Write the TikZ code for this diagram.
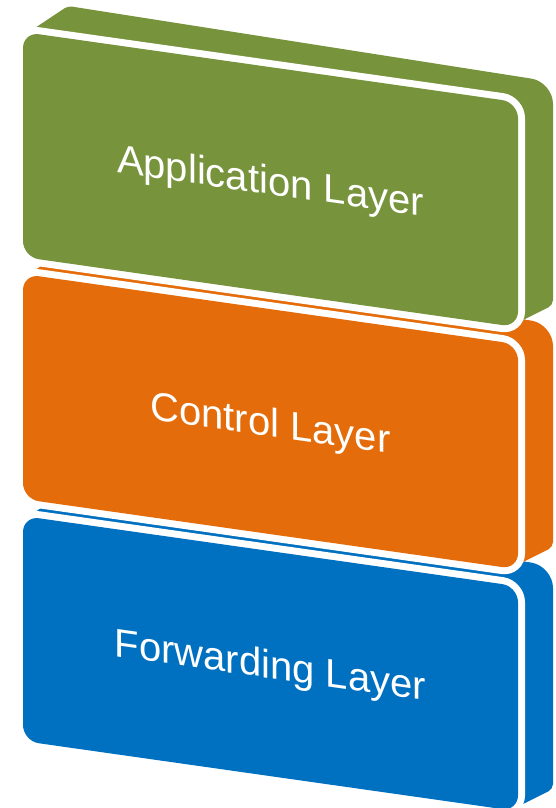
\documentclass[tikz,border=0pt]{standalone}
\usepackage{fontspec}
\setmainfont{Liberation Sans}
\definecolor{appgreen}{HTML}{77933C}
\definecolor{ctrlorange}{HTML}{E46C0A}
\definecolor{fwdblue}{HTML}{0070C0}
\tikzset{
  lbl/.style={text=white, font=\fontsize{40}{48}\selectfont, inner sep=0pt},
  gap/.style={draw=white, line width=14pt, rounded corners=16pt},
}
\newcommand\drawslab[4]{%
  \begin{scope}[shift={(0,#1)}]
    \fill[#2, rounded corners=4pt] (29,32) -- (68,6) [rounded corners=22pt] -- (553,82) [rounded corners=5pt] -- (553,305) -- (515,324) -- (23,250) -- cycle;
    \draw[gap] (23,32) -- (518,102.3) -- (518,327.3) -- (23,257) -- cycle;
    \fill[#2, rounded corners=16pt] (23,32) -- (518,102.3) -- (518,327.3) -- (23,257) -- cycle;
    \node[lbl, yslant=-0.142] (#3) at (270.5,184) {#4};
  \end{scope}}
\begin{document}
\begin{tikzpicture}[x=1pt, y=-1pt]
  \useasboundingbox (0,0) rectangle (555,808);
  \drawslab{484}{fwdblue}{fwd}{Forwarding Layer}
  \drawslab{242}{ctrlorange}{ctrl}{Control Layer}
  \drawslab{0}{appgreen}{app}{Application Layer}
\end{tikzpicture}
\end{document}
